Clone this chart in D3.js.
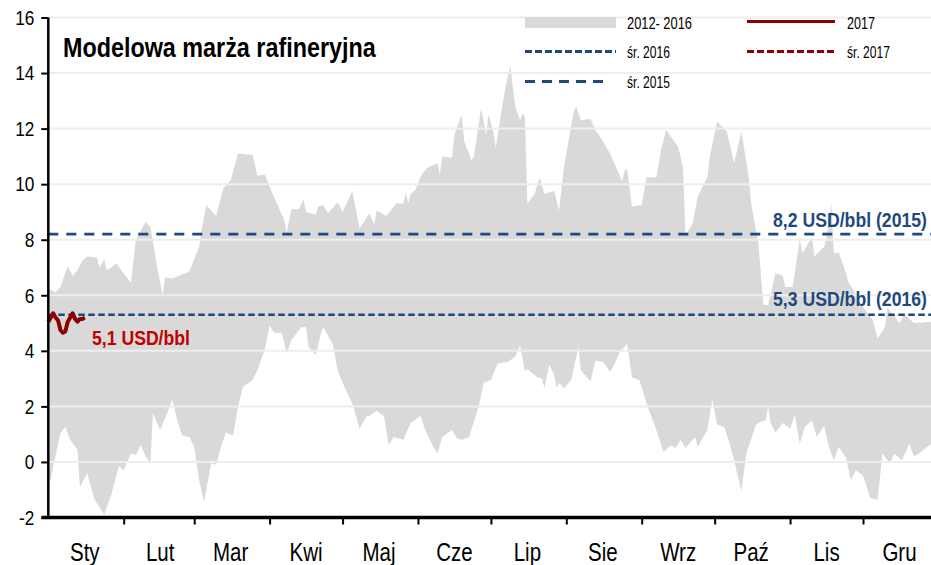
<!DOCTYPE html>
<html>
<head>
<meta charset="utf-8">
<script src="https://cdn.jsdelivr.net/npm/d3@7"></script>
<style>
  html, body { margin: 0; padding: 0; background: #ffffff; }
  svg { display: block; }
  text { font-family: "Liberation Sans Narrow", "Arial Narrow", "Liberation Sans", Arial, sans-serif; }
</style>
</head>
<body>
<svg id="chart" width="931" height="565"></svg>
<script>
// ---- data -----------------------------------------------------------------
// Month labels (Polish) and y-axis ticks
const monthNames = ["Sty", "Lut", "Mar", "Kwi", "Maj", "Cze", "Lip", "Sie", "Wrz", "Paź", "Lis", "Gru"];
const yTicks = [-2, 0, 2, 4, 6, 8, 10, 12, 14, 16];

// 2012-2016 range: upper envelope [day of year, USD/bbl]
const bandUpper = [
  [0,6.2],[1,6.2],[3,6.1],[5,6.3],[7,6.8],[8,7.05],[10,6.7],[12,6.9],[14,7.25],[16,7.4],
  [20,7.35],[21,7.0],[23,7.3],[24,6.9],[26,7.0],[28,7.15],[30,6.9],[34,6.45],[36,8.0],[40,8.65],
  [42,8.45],[45,6.9],[47,6.0],[48,6.65],[51,6.6],[55,6.75],[58,6.85],[62,7.75],[63,8.35],[65,9.25],
  [69,8.85],[72,9.85],[75,10.15],[78,11.1],[84,11.05],[86,10.3],[89,10.35],[92,9.7],[94,9.3],[97,8.7],
  [98,8.25],[100,9.1],[103,9.1],[105,9.45],[106,9.0],[110,8.9],[111,9.2],[113,9.25],[115,8.95],[118,9.25],
  [119,9.35],[121,9.0],[125,9.75],[128,8.4],[132,8.95],[134,8.55],[135,9.05],[139,8.85],[143,9.3],[146,9.3],
  [147,9.7],[148,9.3],[149,9.65],[151,9.8],[153,10.25],[154,10.4],[156,10.6],[160,10.75],[161,10.35],[162,11.0],
  [166,10.95],[167,11.8],[170,12.5],[171,11.55],[174,10.85],[175,11.0],[178,12.75],[180,11.75],[181,12.5],[183,11.9],
  [184,11.3],[186,12.45],[188,13.5],[190,14.25],[192,12.8],[194,12.3],[195,12.55],[196,12.4],[197,9.3],[200,9.65],
  [202,10.25],[204,9.65],[208,9.75],[210,9.05],[212,10.6],[214,11.6],[216,12.6],[217,12.8],[219,12.3],[223,12.35],
  [225,11.95],[228,11.55],[231,11.1],[236,10.1],[237,10.5],[238,10.55],[240,9.2],[244,9.25],[246,10.25],[250,10.25],
  [252,11.25],[254,11.95],[259,11.35],[261,10.6],[262,8.15],[265,8.6],[267,9.55],[271,10.25],[272,11.0],[275,12.25],
  [279,11.9],[282,10.75],[285,11.9],[288,10.25],[289,9.3],[292,7.85],[294,5.65],[296,5.65],[299,6.8],[302,6.7],
  [303,6.3],[306,6.3],[307,6.8],[309,8.05],[310,7.5],[314,8.1],[315,7.4],[319,7.75],[320,8.1],[322,9.3],
  [323,7.5],[325,7.55],[328,6.8],[329,6.45],[330,6.35],[334,5.7],[339,5.1],[341,4.45],[344,4.85],[345,5.55],
  [350,5.0],[352,5.3],[356,5.0],[363,5.05],[366,5.1]
];

// 2012-2016 range: lower envelope [day of year, USD/bbl]
const bandLower = [
  [0,-0.7],[1,-0.65],[2,-0.15],[5,1.05],[7,1.25],[9,0.8],[12,0.45],[13,-0.9],[16,-0.4],[19,-1.35],
  [23,-1.9],[26,-1.15],[29,-0.15],[31,-0.3],[34,0.3],[36,0.25],[38,0.6],[40,0.2],[42,-0.05],[43,1.75],
  [46,1.15],[50,2.0],[51,2.25],[53,1.5],[55,0.95],[58,0.9],[60,0.55],[62,-0.65],[64,-1.45],[67,-0.05],
  [69,-0.1],[71,0.55],[73,1.05],[76,0.95],[78,2.0],[80,2.7],[84,2.95],[86,3.3],[89,4.05],[91,4.9],
  [93,4.65],[96,4.65],[98,3.9],[100,4.4],[104,4.85],[106,4.85],[107,4.15],[110,3.85],[112,4.6],[113,4.85],
  [117,4.25],[119,3.3],[121,2.85],[125,2.1],[128,1.2],[131,1.65],[132,1.65],[135,1.85],[138,1.65],[140,0.6],
  [142,0.9],[146,0.8],[149,1.4],[153,1.65],[155,1.15],[158,0.6],[160,0.3],[162,0.9],[166,1.15],[168,0.85],
  [170,0.8],[173,0.9],[177,2.0],[179,2.85],[182,2.95],[184,3.4],[185,3.55],[189,3.6],[192,3.8],[194,4.2],
  [196,3.25],[197,3.35],[201,3.05],[203,3.0],[204,2.65],[206,3.5],[208,3.15],[209,2.65],[210,2.85],[212,2.65],
  [215,2.95],[218,4.15],[219,3.3],[223,2.9],[224,3.3],[225,3.65],[228,3.6],[231,3.25],[233,3.55],[235,3.95],
  [238,4.25],[240,3.05],[243,2.95],[247,1.85],[249,1.4],[251,0.9],[253,0.35],[256,0.6],[258,0.5],[260,0.8],
  [262,0.5],[266,0.9],[267,0.55],[271,1.15],[273,2.25],[275,1.35],[278,1.25],[280,0.7],[282,0.05],[285,-1.05],
  [287,0.3],[291,1.35],[293,1.45],[295,1.5],[296,2.0],[297,1.4],[299,1.05],[302,1.4],[305,1.2],[307,1.7],
  [309,0.65],[311,1.25],[314,1.5],[316,0.9],[319,1.3],[321,0.55],[323,0.05],[325,0.55],[328,0.15],[330,-0.65],
  [332,-0.3],[335,-0.5],[338,-1.3],[341,-1.35],[343,0.3],[346,-0.05],[348,0.3],[351,0.05],[354,0.65],[356,0.2],
  [358,0.3],[363,0.65],[366,0.7]
];

// 2017 daily margin (from 1 January)
const margin2017 = [5.05, 5.2, 5.35, 5.2, 5.1, 4.75, 4.65, 4.7, 5.05, 5.2, 5.35, 5.15, 5.05, 5.15, 5.15, 5.2];

// Yearly averages
const avg2015 = 8.2;
const avg2016 = 5.3;
const avg2017 = 5.1;

// ---- setup ----------------------------------------------------------------
const svg = d3.select("#chart");
const BLUE = "#1f497d";
const DARKRED = "#8b0000";
const RED = "#c00000";
const BAND = "#d9d9d9";

const yearStart = new Date(2016, 0, 1);
const yearEnd = new Date(2017, 0, 1);
const dayDate = d => d3.timeDay.offset(yearStart, d);

const x = d3.scaleTime().domain([yearStart, yearEnd]).range([48.3, 938.4]);
const y = d3.scaleLinear().domain([-2, 16]).range([517.5, 17.5]);
const xLeft = 48.3, xRight = 931;

// condensed font check: squeeze text when the narrow face is missing
function narrowAvailable() {
  const t = svg.append("text").style("font-size", "40px")
    .style("font-family", "'Liberation Sans Narrow', monospace").text("abcdefgh");
  const w1 = t.node().getComputedTextLength();
  t.style("font-family", "monospace");
  const w2 = t.node().getComputedTextLength();
  t.remove();
  return Math.abs(w1 - w2) > 1;
}
const squeezeK = narrowAvailable() ? 1 : 0.82;
function squeeze(sel) {
  sel.each(function () {
    if (squeezeK < 1) {
      const w = this.getComputedTextLength();
      d3.select(this).attr("textLength", w * squeezeK).attr("lengthAdjust", "spacingAndGlyphs");
    }
  });
  return sel;
}
// place a text at (px, py) and scale it horizontally to the given width
function placeText(parent, px, py, len, anchor) {
  const g = parent.append("g");
  const t = g.append("text").attr("x", 0).attr("y", 0).attr("text-anchor", anchor || "start");
  t.fitTo = function () {
    const w = t.node().getComputedTextLength();
    const k = w > 0 ? len / w : 1;
    g.attr("transform", `translate(${px},${py}) scale(${k},1)`);
    return t;
  };
  return t;
}

const plot = svg.append("g");
svg.append("clipPath").attr("id", "clip")
  .append("rect").attr("x", xLeft).attr("y", 0).attr("width", xRight - xLeft).attr("height", 518);

// ---- 2012-2016 band -------------------------------------------------------
const bandLine = d3.line().x(d => x(dayDate(d[0]))).y(d => y(d[1]));
const bandPoints = bandUpper.concat(bandLower.slice().reverse());
plot.append("path")
  .attr("clip-path", "url(#clip)")
  .attr("d", bandLine(bandPoints) + "Z")
  .attr("fill", BAND)
  .attr("stroke", "none");

// ---- gridlines (drawn over the band) ---------------------------------------
plot.append("g").selectAll("line")
  .data(yTicks.filter(v => v > -2))
  .join("line")
  .attr("x1", xLeft).attr("x2", xRight)
  .attr("y1", d => y(d)).attr("y2", d => y(d))
  .attr("stroke", "#eeeeee")
  .attr("stroke-width", 2);

// ---- average lines ---------------------------------------------------------
plot.append("line")
  .attr("x1", xLeft).attr("x2", xRight)
  .attr("y1", y(avg2015)).attr("y2", y(avg2015))
  .attr("stroke", BLUE).attr("stroke-width", 2.6)
  .attr("stroke-dasharray", "10,8");

plot.append("line")
  .attr("x1", xLeft).attr("x2", xRight)
  .attr("y1", y(avg2016)).attr("y2", y(avg2016))
  .attr("stroke", BLUE).attr("stroke-width", 2.6)
  .attr("stroke-dasharray", "6.5,3.5");

// ---- 2017 line -------------------------------------------------------------
const line2017 = d3.line().x((d, i) => x(dayDate(i))).y(d => y(d));
plot.append("path")
  .attr("d", line2017(margin2017))
  .attr("fill", "none")
  .attr("stroke", DARKRED)
  .attr("stroke-width", 4)
  .attr("stroke-linejoin", "round");

// ---- axes ------------------------------------------------------------------
const yAxis = d3.axisLeft(y).tickValues(yTicks).tickSize(7).tickPadding(7).tickFormat(d => String(d));
const gy = svg.append("g").attr("transform", `translate(${xLeft},0)`).call(yAxis);
gy.select(".domain").attr("stroke", "#000").attr("stroke-width", 2.5).attr("d", `M0,${y(16)}V${y(-2)}`);
gy.selectAll(".tick line").attr("stroke", "#000").attr("stroke-width", 2);
squeeze(gy.selectAll(".tick text").attr("font-size", 21).attr("fill", "#000")
  .style("font-family", null).attr("font-family", null));

const monthStarts = d3.timeMonth.range(yearStart, yearEnd);
const xAxis = d3.axisBottom(x).tickValues(monthStarts.slice(1)).tickSize(7).tickFormat("");
const gx = svg.append("g").attr("transform", `translate(0,${y(-2)})`).call(xAxis);
gx.select(".domain").attr("stroke", "#000").attr("stroke-width", 3.5).attr("d", `M41.5,0H${xRight}`);
gx.selectAll(".tick line").attr("stroke", "#000").attr("stroke-width", 2);

// month labels centred in each month
squeeze(svg.append("g").selectAll("text")
  .data(monthStarts)
  .join("text")
  .attr("x", d => x(new Date(d.getFullYear(), d.getMonth(), 16)))
  .attr("y", 561)
  .attr("text-anchor", "middle")
  .attr("font-size", 25)
  .attr("fill", "#000")
  .text((d, i) => monthNames[i]));

// ---- value labels ----------------------------------------------------------
placeText(svg, 927, y(avg2015) - 7, 154, "end")
  .attr("font-size", 20).attr("font-weight", "bold").attr("fill", BLUE)
  .text("8,2 USD/bbl (2015)").fitTo();

placeText(svg, 927, y(avg2016) - 9, 154, "end")
  .attr("font-size", 20).attr("font-weight", "bold").attr("fill", BLUE)
  .text("5,3 USD/bbl (2016)").fitTo();

placeText(svg, 92, y(avg2017) + 25, 98)
  .attr("font-size", 20).attr("font-weight", "bold").attr("fill", RED)
  .text("5,1 USD/bbl").fitTo();

// ---- title -----------------------------------------------------------------
placeText(svg, 63, 57, 313)
  .attr("font-size", 28).attr("font-weight", "bold").attr("fill", "#000")
  .text("Modelowa marża rafineryjna").fitTo();

// ---- legend ----------------------------------------------------------------
const lg = svg.append("g");
lg.append("rect").attr("x", 525).attr("y", 17).attr("width", 91).attr("height", 11).attr("fill", BAND);
placeText(lg, 627, 29, 65).attr("font-size", 17).text("2012- 2016").fitTo();

lg.append("line").attr("x1", 747).attr("x2", 835).attr("y1", 21.5).attr("y2", 21.5)
  .attr("stroke", DARKRED).attr("stroke-width", 3);
placeText(lg, 847, 29, 28).attr("font-size", 17).text("2017").fitTo();

lg.append("line").attr("x1", 525).attr("x2", 616).attr("y1", 51.5).attr("y2", 51.5)
  .attr("stroke", BLUE).attr("stroke-width", 3).attr("stroke-dasharray", "7,3");
placeText(lg, 627, 58, 43).attr("font-size", 17).text("śr. 2016").fitTo();

lg.append("line").attr("x1", 747).attr("x2", 835).attr("y1", 51.5).attr("y2", 51.5)
  .attr("stroke", DARKRED).attr("stroke-width", 3).attr("stroke-dasharray", "7,3");
placeText(lg, 847, 58, 43).attr("font-size", 17).text("śr. 2017").fitTo();

lg.append("line").attr("x1", 525).attr("x2", 608).attr("y1", 81.5).attr("y2", 81.5)
  .attr("stroke", BLUE).attr("stroke-width", 3).attr("stroke-dasharray", "10,7");
placeText(lg, 627, 88, 43).attr("font-size", 17).text("śr. 2015").fitTo();
</script>
</body>
</html>
